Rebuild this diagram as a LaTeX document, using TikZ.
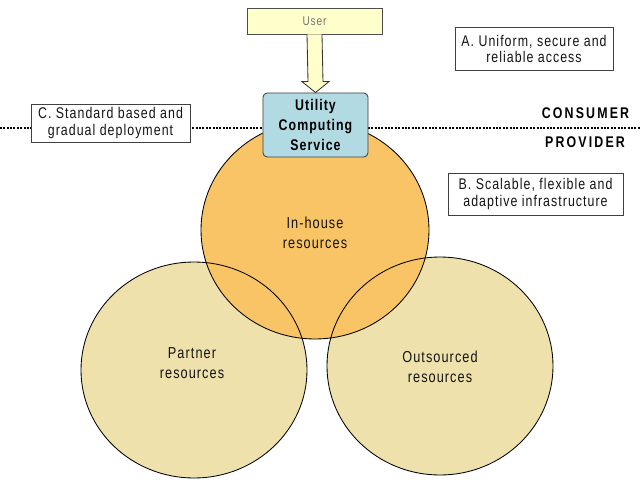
\documentclass[tikz,border=0pt]{standalone}
\usepackage{fontspec}
\setmainfont{Liberation Sans}[FakeStretch=0.8, LetterSpace=6.7]
\usetikzlibrary{calc}

\definecolor{userfill}{HTML}{FFFFCC}
\definecolor{svcfill}{HTML}{B2DAE2}
\definecolor{inhouse}{HTML}{F9C466}
\definecolor{outside}{HTML}{EFE1AC}

\begin{document}
\begin{tikzpicture}[x=0.025cm, y=-0.025cm,
    every node/.style={align=center, text=black!92, inner sep=0pt},
    boxtext/.style={font=\fontsize{11}{11.4}\selectfont},
    note/.style={boxtext, draw=black!75, fill=white, line width=0.6pt},
    pool/.style={draw=black, line width=0.6pt},
    poollabel/.style={font=\fontsize{11.3}{14.2}\selectfont},
    side/.style={font=\fontsize{11}{11}\selectfont\bfseries\addfontfeatures{LetterSpace=14}, text=black},
    divider/.style={line width=1.7pt, dash pattern=on 1.4pt off 1pt}]
    \useasboundingbox (0,0) rectangle (640,480);

    \fill[outside] (194,370) ellipse [x radius=113, y radius=108];
    \fill[outside] (440,366) ellipse [x radius=113, y radius=109];
    \fill[inhouse] (315,230) ellipse [x radius=114, y radius=109];
    \draw[pool] (194,370) ellipse [x radius=113, y radius=108];
    \draw[pool] (440,366) ellipse [x radius=113, y radius=109];
    \draw[pool] (315,230) ellipse [x radius=114, y radius=109];

    \node[poollabel] (own) at (315,233) {In-house\\resources};
    \node[poollabel] (partner) at (192,363) {Partner\\resources};
    \node[poollabel] (outsourced) at (440,367) {Outsourced\\resources};

    \coordinate (divl) at (0,128); \coordinate (divr) at (640,128);
    \draw[divider] (divl) -- (divr);

    \node[note, minimum width=3.975cm, minimum height=0.95cm] (stdc) at (110.5,123) {C. Standard based and\\gradual deployment};
    \node[note, minimum width=3.95cm, minimum height=1.075cm] (unia) at (534,48.5) {A. Uniform, secure and\\reliable access};
    \node[note, minimum width=4.375cm, minimum height=1.05cm] (scalb) at (535.5,194) {B. Scalable, flexible and\\adaptive infrastructure};
    \node[side] (consumer) at (585.5,113) {CONSUMER};
    \node[side] (provider) at (585,142.5) {PROVIDER};

    \node[draw=black!70, fill=userfill, line width=0.6pt, minimum width=3.375cm, minimum height=0.65cm,
          font=\fontsize{9}{9}\selectfont, text=black!55] (user) at (314.5,21) {User};
    \node[draw=black!75, fill=svcfill, line width=0.6pt, rounded corners=3pt, minimum width=2.625cm, minimum height=1.6cm,
          font=\fontsize{11}{14.2}\selectfont\bfseries, text=black] (util) at (315.5,125) {Utility\\Computing\\Service};

    \draw[draw=black!80, fill=userfill, line width=0.6pt]
        ($(user.south)+(-7.5,0)$) -- ($(util.north)+(-7.5,-11)$) -- ($(util.north)+(-13.5,-11)$) -- (util.north)
        -- ($(util.north)+(13.5,-11)$) -- ($(util.north)+(7.5,-11)$) -- ($(user.south)+(7.5,0)$);
\end{tikzpicture}
\end{document}
